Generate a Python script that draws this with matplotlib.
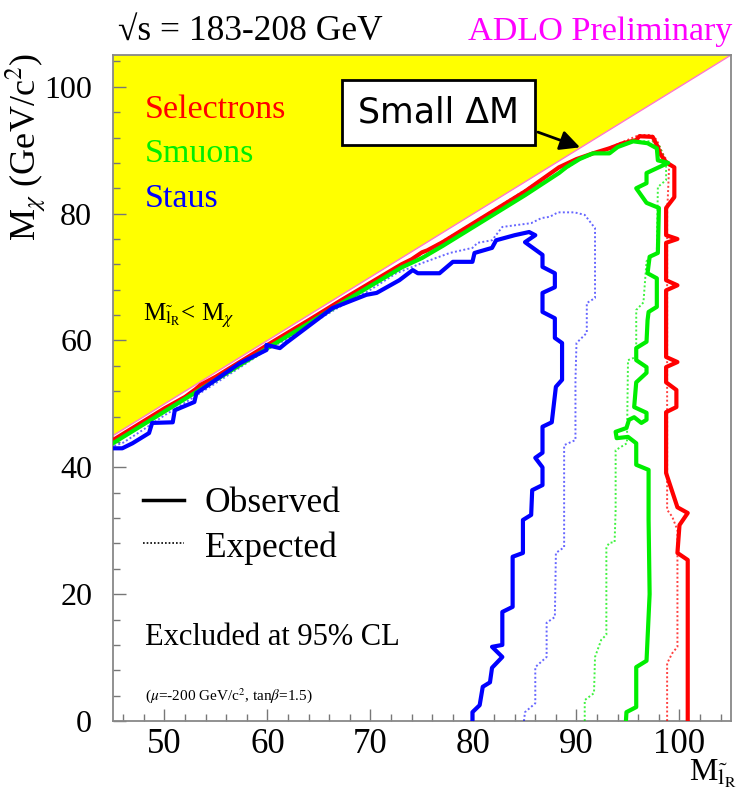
import numpy as np
import matplotlib
matplotlib.use("Agg")
import matplotlib.pyplot as plt
from matplotlib.ticker import MultipleLocator

plt.rcParams['font.family'] = ['Liberation Serif', 'DejaVu Serif']
plt.rcParams['mathtext.fontset'] = 'stix'

# axis limits (GeV/c^2)
xlim = [45, 105]
ylim = [0, 105]

# --- observed limits ---
sel_obs_x = [100.8, 100.8, 99.8, 100.0, 100.8, 99.8, 98.7, 98.7, 99.7, 99.7, 98.7, 98.7, 99.8, 98.7,
             98.7, 99.8, 98.7, 98.7, 99.8, 98.7, 98.7, 99.5, 99.5, 98.7, 98.1, 97.9, 97.4, 96.1, 95.8,
             94.5, 93.2, 91.6, 90.0, 88.3, 85.0, 82.0, 80.0, 77.0, 75.5, 75.0, 74.0, 73.0, 70.0, 67.0,
             64.0, 60.0, 57.0, 55.0, 53.5, 53.0, 52.0, 50.0, 47.0, 45.0]
sel_obs_y = [0.0, 25.4, 26.5, 30.9, 32.8, 33.7, 39.1, 48.7, 49.5, 52.2, 53.4, 55.8, 56.6, 57.4,
             67.9, 68.7, 69.5, 75.4, 76.0, 76.6, 80.9, 82.6, 87.3, 88.1, 89.5, 90.5, 92.1, 92.2, 91.6,
             91.1, 90.3, 89.5, 88.6, 87.3, 83.5, 80.5, 78.5, 75.5, 74.2, 73.9, 72.8, 72.0, 69.1, 66.2,
             63.2, 59.3, 56.3, 54.3, 53.0, 52.3, 51.1, 49.3, 46.3, 44.3]

smu_obs_x = [94.8, 94.85, 95.8, 95.8, 96.8, 97.1, 97.0, 97.0, 95.8, 95.8, 95.0, 93.9, 93.8, 94.85,
             95.1, 95.6, 96.3, 96.8, 96.8, 95.6, 95.8, 96.8, 96.8, 95.8, 95.8, 96.8, 96.9, 97.0, 97.8,
             97.8, 96.9, 97.1, 97.9, 98.0, 96.8, 95.8, 96.8, 96.8, 98.9, 97.9, 97.8, 96.9, 95.5, 94.0,
             93.2, 91.6, 90.3, 89.0, 88.3, 85.0, 82.0, 80.0, 77.0, 75.0, 73.0, 70.0, 67.0, 64.0, 60.0,
             57.0, 55.0, 52.0, 50.0, 47.0, 45.0]
smu_obs_y = [0.0, 1.4, 2.2, 8.5, 9.5, 20.0, 31.7, 39.6, 40.4, 43.8, 44.8, 44.6, 45.6, 46.2,
             47.5, 47.9, 47.0, 47.5, 48.6, 49.5, 53.4, 54.9, 55.8, 56.9, 58.8, 59.8, 63.2, 64.5, 65.3,
             69.8, 70.6, 73.2, 73.8, 80.9, 81.7, 84.0, 84.8, 86.4, 88.0, 88.4, 90.3, 91.1, 91.4, 90.5,
             89.5, 89.5, 88.6, 87.3, 86.4, 82.9, 79.9, 77.9, 74.9, 73.0, 71.5, 68.6, 65.7, 62.7, 58.8,
             55.8, 53.8, 50.8, 48.8, 45.8, 43.8]

stau_obs_x = [79.9, 79.9, 80.6, 80.9, 81.6, 81.8, 82.8, 81.8, 82.8, 82.8, 83.8, 83.8, 84.8, 84.8,
              85.6, 85.7, 86.7, 86.7, 86.0, 86.7, 86.7, 87.6, 88.0, 88.6, 88.6, 87.9, 87.9, 86.7,
              86.7, 87.9, 87.9, 86.7, 86.7, 85.0, 86.0, 85.4, 84.0, 82.2, 81.8, 80.1, 79.9, 78.0,
              76.7, 74.6, 74.1, 72.8, 70.6, 69.6, 66.3, 61.8, 61.2, 59.9, 59.9, 57.3, 53.1, 52.9,
              51.0, 50.8, 48.8, 48.5, 46.9, 45.9, 45.0]
stau_obs_y = [0.0, 1.4, 2.5, 5.4, 6.1, 8.4, 10.1, 11.7, 12.0, 17.2, 18.0, 25.9, 26.5, 31.7,
              32.5, 36.4, 37.2, 40.0, 41.5, 42.3, 46.4, 47.1, 52.7, 53.8, 59.6, 60.4, 63.5, 64.5,
              67.5, 68.4, 70.6, 71.6, 73.5, 75.5, 76.6, 77.1, 76.6, 75.8, 74.6, 73.8, 72.4, 72.4,
              70.6, 70.6, 71.1, 69.5, 67.5, 67.2, 65.1, 59.6, 58.8, 59.3, 58.5, 56.4, 51.7, 50.3,
              49.0, 47.1, 47.0, 45.4, 43.8, 43.0, 43.0]

# --- expected limits ---
sel_exp_x = [98.8, 98.8, 99.3, 99.8, 99.8, 99.8, 99.3, 98.8, 98.8, 99.0, 98.3, 97.8, 97.3, 96.1,
             94.5, 93.2, 91.6, 90.0, 88.3, 85.0, 80.0, 75.0, 70.0, 65.0, 60.0, 55.0, 50.0, 45.0]
sel_exp_y = [0.0, 9.1, 10.7, 11.7, 26.2, 30.1, 32.2, 33.3, 80.0, 87.7, 89.7, 91.6, 92.4, 92.4,
             91.3, 90.4, 89.5, 88.5, 87.2, 83.7, 78.6, 73.7, 68.8, 63.9, 59.0, 54.0, 49.1, 44.1]

smu_exp_x = [90.8, 90.8, 91.7, 91.8, 92.4, 92.9, 92.9, 93.2, 93.7, 93.8, 93.8, 94.9, 95.0, 95.8,
             95.8, 96.5, 96.8, 97.8, 97.9, 98.7, 98.7, 98.1, 97.4, 95.6, 94.0, 93.2, 91.6, 90.3,
             88.3, 85.0, 80.0, 75.0, 70.0, 65.0, 60.0, 55.0, 50.0, 45.0]
smu_exp_y = [0.0, 3.3, 4.4, 10.1, 12.8, 13.6, 27.4, 28.1, 28.2, 33.3, 42.7, 43.8, 56.9, 57.4,
             64.8, 66.0, 72.5, 73.9, 84.2, 85.3, 88.0, 90.5, 91.4, 91.4, 90.6, 89.7, 89.4, 88.5,
             86.4, 83.0, 78.0, 73.1, 68.7, 63.8, 58.9, 53.9, 48.9, 43.9]

stau_exp_x = [84.9, 85.0, 86.0, 86.0, 87.1, 87.1, 87.9, 88.0, 88.8, 88.8, 89.9, 89.9, 90.0, 91.0,
              91.0, 91.8, 91.8, 90.8, 89.8, 88.2, 87.4, 86.6, 85.6, 82.8, 81.8, 80.4, 79.9, 77.7,
              75.0, 72.5, 70.0, 67.0, 64.0, 62.0, 60.0, 57.0, 55.0, 52.0, 50.0, 48.0, 46.0, 45.0]
stau_exp_y = [0.0, 1.4, 2.8, 8.5, 10.1, 15.5, 16.4, 26.5, 27.4, 43.5, 44.3, 53.8, 59.6, 61.2,
              65.9, 66.7, 77.7, 79.8, 80.2, 80.2, 79.5, 79.3, 78.5, 77.9, 75.8, 75.4, 74.6, 73.8,
              72.2, 70.6, 68.0, 65.3, 62.4, 60.3, 58.6, 55.4, 53.3, 50.2, 48.2, 46.0, 43.9, 43.3]

red = '#ff0000'
green = '#00ee00'
blue = '#0000ff'

fig = plt.figure(figsize=(7.38, 8.05), dpi=100)
ax = fig.add_axes([0.1531, 0.1043, 0.8374, 0.8273])

# kinematically forbidden region M_slepton < M_chi
ax.fill([xlim[0], xlim[0], xlim[1]], [xlim[0], ylim[1], ylim[1]], color='#ffff00', lw=0, zorder=1)
ax.plot([xlim[0], xlim[1]], [xlim[0], xlim[1]], color='#ff77cc', lw=1.0, zorder=2)

dots = (0, (1, 1.2))
ax.plot(sel_exp_x, sel_exp_y, color=red, lw=1.4, ls=dots, alpha=0.75, zorder=3)
ax.plot(smu_exp_x, smu_exp_y, color=green, lw=1.4, ls=dots, alpha=0.75, zorder=3)
ax.plot(stau_exp_x, stau_exp_y, color=blue, lw=1.4, ls=dots, alpha=0.6, zorder=3)
ax.plot(sel_obs_x, sel_obs_y, color=red, lw=3, zorder=4)
ax.plot(smu_obs_x, smu_obs_y, color=green, lw=3, zorder=5)
ax.plot(stau_obs_x, stau_obs_y, color=blue, lw=3, zorder=6)

ax.set_xlim(xlim)
ax.set_ylim(ylim)
ax.xaxis.set_major_locator(MultipleLocator(10))
ax.xaxis.set_minor_locator(MultipleLocator(2))
ax.yaxis.set_major_locator(MultipleLocator(20))
ax.yaxis.set_minor_locator(MultipleLocator(4))
ax.tick_params(which='both', direction='in', color='#777777', width=1, top=False, right=False)
ax.tick_params(which='major', length=9)
ax.tick_params(which='minor', length=5)
ax.tick_params(axis='x', labelsize=25, pad=5)
ax.tick_params(axis='y', labelsize=23, pad=15)
for s in ax.spines.values():
    s.set_color('#888888')
    s.set_linewidth(1.3)

# labels
fig.text(0.160, 0.950, '\u221as = 183-208 GeV', fontsize=25.5, ha='left', va='baseline')
fig.text(0.993, 0.950, 'ADLO Preliminary', fontsize=24.6, color='#ff00ff', ha='right', va='baseline')
fig.text(0.035, 0.934, r'M$_\chi$ (GeV/c$^2$)', fontsize=26, rotation=90, ha='center', va='top')
fig.text(0.998, 0.030, r'M$_{\tilde{\rm l}_{\rm R}}$', fontsize=23, ha='right', va='baseline')

ax.text(48.06, 95.1, 'Selectrons', color=red, fontsize=24.5, va='baseline', zorder=7)
ax.text(48.06, 88.2, 'Smuons', color=green, fontsize=24.5, va='baseline', zorder=7)
ax.text(48.06, 81.0, 'Staus', color=blue, fontsize=24.5, va='baseline', zorder=7)
ax.text(47.9, 63.1, r'M$_{\tilde{\rm l}_{\rm R}}$< M$_\chi$', fontsize=18, va='baseline', zorder=7)

# legend
ax.plot([47.9, 51.9], [34.9, 34.9], color='k', lw=2.5, zorder=7)
ax.plot([47.9, 51.9], [28.0, 28.0], color='k', lw=1.2, ls=dots, zorder=7)
ax.text(53.9, 32.9, 'Observed', fontsize=25.5, va='baseline')
ax.text(53.9, 25.8, 'Expected', fontsize=25.5, va='baseline')
ax.text(48.06, 12.0, 'Excluded at 95% CL', fontsize=22, va='baseline')
ax.text(48.06, 3.3, r'($\mu$=-200 GeV/c$^2$, tan$\beta$=1.5)', fontsize=11, va='baseline')

# small delta M annotation
ax.text(76.6, 95.9, 'Small \u0394M', family='DejaVu Sans', fontsize=25, ha='center', va='center',
        zorder=8, bbox=dict(boxstyle='square,pad=0.45', fc='white', ec='black', lw=2))
ax.annotate('', xy=(90.6, 90.3), xytext=(86.0, 93.0),
            arrowprops=dict(arrowstyle='-|>', color='black', lw=2, mutation_scale=30), zorder=8)

fig.savefig('out.png', dpi=100)
